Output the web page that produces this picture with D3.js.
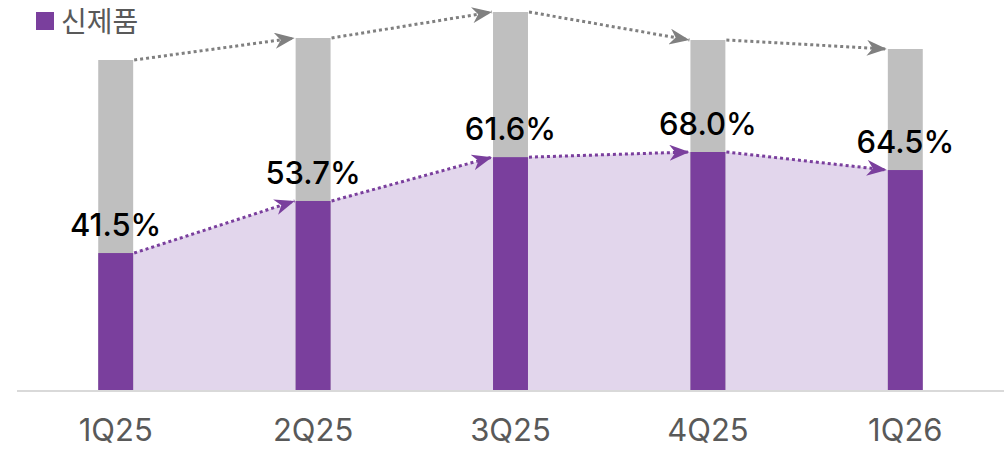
<!DOCTYPE html>
<html><head><meta charset="utf-8">
<script src="https://cdn.jsdelivr.net/npm/d3@7"></script>
<style>body{margin:0;background:#fff}svg{display:block}</style>
</head><body>
<svg id="c" width="1007" height="449"></svg>
<script>
const categories = ["1Q25","2Q25","3Q25","4Q25","1Q26"];
const totals = [330, 352, 378, 350, 341];
const shares = [41.5, 53.7, 61.6, 68.0, 64.5];
const legendLabel = "신제품";

const svg = d3.select("#c");
const x = d3.scaleBand().domain(categories).range([17, 1004]).paddingInner(0.823).paddingOuter(0.4115);
const y = d3.scaleLinear().domain([0, 378]).range([390, 12]);
const bw = x.bandwidth();
const data = categories.map((c,i)=>({c, t: totals[i], s: shares[i], p: totals[i]*shares[i]/100}));

const PURPLE = "#7a3f9d", GRAY = "#bfbfbf", FILL = "#e2d6ec";
const FONT = "Inter, 'Noto Sans CJK KR', sans-serif";

const defs = svg.append("defs");
function marker(id, color){
  defs.append("marker").attr("id", id).attr("viewBox","0 0 20 16").attr("refX",20).attr("refY",8)
    .attr("markerWidth",20).attr("markerHeight",16).attr("markerUnits","userSpaceOnUse").attr("orient","auto")
    .append("path").attr("d","M0,0 L20,8 L0,16 L6,8 Z").attr("fill", color);
}
marker("ap", PURPLE); marker("ag", "#808080");

// area between bars
const pts = [];
data.forEach((d,i)=>{
  if(i>0) pts.push([x(d.c), y(d.p)]);
  if(i<data.length-1) pts.push([x(d.c)+bw, y(d.p)]);
});
const poly = [[pts[0][0], y(0)], ...pts, [pts[pts.length-1][0], y(0)]];
svg.append("path").attr("d", d3.line()(poly)).attr("fill", FILL);

// axis line
svg.append("line").attr("x1",17).attr("x2",1004).attr("y1",391).attr("y2",391).attr("stroke","#d9d9d9").attr("stroke-width",2);

// bars
svg.selectAll(".g").data(data).join("rect").attr("x", d=>x(d.c)).attr("width", bw)
  .attr("y", d=>y(d.t)).attr("height", d=>y(0)-y(d.t)).attr("fill", GRAY);
svg.selectAll(".p").data(data).join("rect").attr("x", d=>x(d.c)).attr("width", bw)
  .attr("y", d=>y(d.p)).attr("height", d=>y(0)-y(d.p)).attr("fill", PURPLE);

// connectors
for(let i=0;i<data.length-1;i++){
  const a = data[i], b = data[i+1];
  svg.append("line").attr("x1", x(a.c)+bw+1).attr("y1", y(a.t)).attr("x2", x(b.c)-1).attr("y2", y(b.t))
    .attr("stroke","#808080").attr("stroke-width",3).attr("stroke-dasharray","3,3").attr("marker-end","url(#ag)");
  svg.append("line").attr("x1", x(a.c)+bw+1).attr("y1", y(a.p)).attr("x2", x(b.c)-1).attr("y2", y(b.p))
    .attr("stroke",PURPLE).attr("stroke-width",3).attr("stroke-dasharray","3,3").attr("marker-end","url(#ap)");
}

// labels
svg.selectAll(".lbl").data(data).join("text").attr("x", d=>x(d.c)+bw/2).attr("y", d=>y(d.p)-17)
  .attr("text-anchor","middle").attr("font-family",FONT).attr("font-weight",500)
  .attr("font-size",31).attr("fill","#000").text(d=>d.s.toFixed(1)+"%");

// x axis labels
const xa = svg.append("g").attr("transform","translate(0,391)").call(d3.axisBottom(x).tickSize(0).tickPadding(0));
xa.select(".domain").remove();
xa.selectAll("text").attr("dy",null).attr("y",50).attr("font-family",FONT).attr("font-size",31).attr("fill","#595959");

// legend
svg.append("rect").attr("x",36).attr("y",12).attr("width",18).attr("height",18).attr("fill",PURPLE);
svg.append("text").attr("x",61).attr("y",32).attr("font-family","'Noto Sans CJK KR', sans-serif").attr("font-size",28)
  .attr("fill","#595959").text(legendLabel);
</script>
</body></html>
